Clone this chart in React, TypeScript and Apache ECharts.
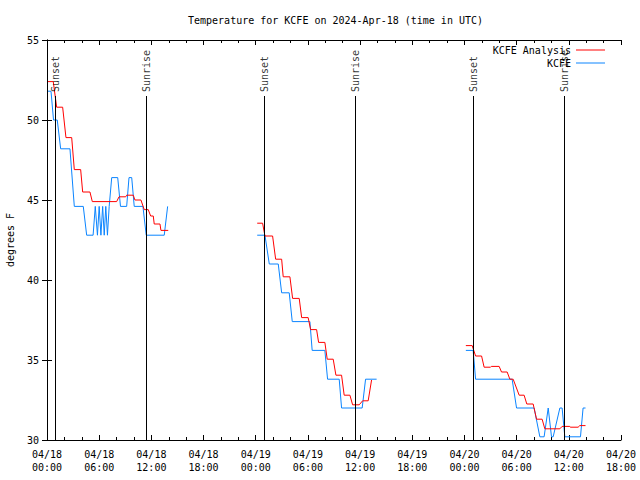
import React, { useEffect, useRef } from "react";
import * as echarts from "echarts";

// Hours since 2024-04-18 00:00 UTC, temperature in degrees F
const analysis1: [number, number][] = [
  [0.11, 52.4], [0.72, 52.4], [1.11, 50.8], [1.8, 50.8], [2.18, 48.9], [2.84, 48.9],
  [3.14, 46.9], [3.87, 46.9], [4.1, 45.5], [4.94, 45.5], [5.21, 44.9], [8.01, 44.9],
  [8.28, 45.2], [9.05, 45.2], [9.16, 45.3], [9.92, 45.3], [10.11, 45.0], [10.8, 45.0],
  [11.18, 44.4], [11.64, 44.4], [11.92, 44.0], [12.22, 44.0], [12.33, 43.5], [12.99, 43.5],
  [13.1, 43.1], [13.94, 43.1],
];
const analysis2: [number, number][] = [
  [24.17, 43.55], [24.79, 43.55], [25.06, 42.75], [25.94, 42.75], [26.29, 41.3], [26.98, 41.3],
  [27.16, 40.2], [27.93, 40.2], [28.24, 38.85], [29.0, 38.85], [29.28, 37.65], [30.03, 37.65],
  [30.31, 36.9], [31.0, 36.9], [31.23, 36.1], [31.95, 36.1], [32.22, 35.05], [32.91, 35.05],
  [33.22, 34.05], [33.87, 34.05], [34.17, 32.8], [34.83, 32.8], [35.14, 32.2], [35.9, 32.2],
  [36.29, 32.45], [36.93, 32.45], [37.32, 33.75],
];
const analysis3: [number, number][] = [
  [48.16, 35.9], [48.89, 35.9], [49.28, 35.25], [49.97, 35.25], [50.26, 34.55], [51.0, 34.55],
  [51.09, 34.6], [51.99, 34.6], [52.26, 34.25], [52.91, 34.25], [53.22, 33.8], [53.6, 33.8],
  [54.29, 32.8], [54.86, 32.8], [55.17, 32.25], [55.9, 32.25], [56.29, 31.3], [56.93, 31.3],
  [57.24, 30.7], [58.97, 30.7], [59.23, 30.85], [60.11, 30.85], [60.17, 30.8], [61.07, 30.8],
  [61.26, 30.9], [61.92, 30.9],
];
const obs1: [number, number][] = [
  [0.11, 51.8], [0.46, 51.8], [0.75, 50.0], [1.18, 50.0], [1.57, 48.2], [2.64, 48.2],
  [3.14, 44.6], [4.17, 44.6], [4.56, 42.8], [5.3, 42.8], [5.55, 44.6], [5.8, 42.8],
  [6.0, 44.6], [6.2, 42.8], [6.4, 44.6], [6.58, 42.8], [6.76, 44.6], [6.95, 42.8],
  [7.15, 44.6], [7.44, 46.4], [8.13, 46.4], [8.45, 44.6], [9.16, 44.6], [9.43, 46.4],
  [9.74, 46.4], [10.03, 44.6], [11.03, 44.6], [11.41, 42.8], [13.48, 42.8], [13.87, 44.6],
];
const obs2: [number, number][] = [
  [24.17, 42.8], [25.06, 42.8], [25.56, 41.0], [26.59, 41.0], [26.98, 39.2], [27.85, 39.2],
  [28.2, 37.4], [30.23, 37.4], [30.49, 35.6], [31.95, 35.6], [32.26, 33.8], [33.6, 33.8],
  [33.87, 32.0], [36.24, 32.0], [36.63, 33.8], [37.9, 33.8],
];
const obs3: [number, number][] = [
  [48.16, 35.6], [49.0, 35.6], [49.28, 33.8], [53.48, 33.8], [53.99, 32.0], [56.01, 32.0],
  [56.67, 30.2], [57.16, 30.2], [57.63, 32.0], [58.01, 30.2], [58.2, 30.2], [58.97, 32.0],
  [59.23, 32.0], [59.54, 30.2], [61.34, 30.2], [61.64, 32.0], [61.92, 32.0],
];
const sunsetHours = [0.93, 24.98, 49.0];
const sunriseHours = [11.46, 35.44, 59.46];

const X_MIN = 0;
const X_MAX = 66;
const Y_MIN = 30;
const Y_MAX = 55;
const EVENT_LINE_TOP = 51.5;
const EVENT_LABEL_BASE = 51.75;

const FONT = "DejaVu Sans Mono";
const RED = "#ff0000";
const BLUE = "#0a84ff";

function joinSegments(segs: [number, number][][]) {
  const out: any[] = [];
  segs.forEach((s, i) => {
    if (i > 0) out.push([s[0][0] - 0.01, "-"]);
    s.forEach((p) => out.push(p));
  });
  return out;
}

function fmtX(v: number) {
  const day = 18 + Math.floor(v / 24);
  const hh = Math.round(v % 24);
  return `04/${day}\n${hh < 10 ? "0" + hh : hh}:00`;
}

export default function App() {
  const ref = useRef<HTMLDivElement>(null);
  useEffect(() => {
    document.body.style.margin = "0";
    const chart = echarts.init(ref.current!, undefined, { renderer: "svg" });
    const axisLine = { show: true, lineStyle: { color: "#000", width: 1 } };
    const xBase = {
      type: "value",
      min: X_MIN,
      max: X_MAX,
      interval: 6,
      axisLine,
      axisTick: { show: true, inside: true, length: 5, lineStyle: { color: "#000" } },
      minorTick: { show: true, splitNumber: 3, length: 3, lineStyle: { color: "#000" } },
      splitLine: { show: false },
    };
    const yBase = {
      type: "value",
      min: Y_MIN,
      max: Y_MAX,
      interval: 5,
      axisLine,
      axisTick: { show: true, inside: true, length: 5, lineStyle: { color: "#000" } },
      splitLine: { show: false },
    };
    const eventLines = [
      ...sunsetHours.map((h) => [{ coord: [h, EVENT_LINE_TOP] }, { coord: [h, Y_MIN] }]),
      ...sunriseHours.map((h) => [{ coord: [h, EVENT_LINE_TOP] }, { coord: [h, Y_MIN] }]),
    ];
    const eventLabels = [
      ...sunsetHours.map((h) => ({ value: [h, EVENT_LABEL_BASE], name: "Sunset" })),
      ...sunriseHours.map((h) => ({ value: [h, EVENT_LABEL_BASE], name: "Sunrise" })),
    ];
    chart.setOption({
      animation: false,
      textStyle: { fontFamily: FONT },
      title: {
        text: "Temperature for KCFE on 2024-Apr-18 (time in UTC)",
        left: 183,
        top: 10,
        textStyle: { fontFamily: FONT, fontSize: 10, fontWeight: "normal", color: "#000" },
      },
      grid: {
        left: 47,
        right: 19,
        top: 40,
        bottom: 40,
        containLabel: false,
        outerBoundsMode: "none",
      },
      legend: [
        {
          data: ["KCFE Analysis"],
          orient: "vertical",
          align: "right",
          right: 30,
          top: 40,
          itemWidth: 29,
          itemHeight: 1,
          icon: "rect",
          selectedMode: false,
          textStyle: { fontFamily: FONT, fontSize: 10, color: "#000" },
        },
        {
          data: ["KCFE"],
          orient: "vertical",
          align: "right",
          right: 30,
          top: 53,
          itemWidth: 29,
          itemHeight: 1,
          icon: "rect",
          selectedMode: false,
          textStyle: { fontFamily: FONT, fontSize: 10, color: "#000" },
        },
      ],
      xAxis: [
        {
          ...xBase,
          position: "bottom",
          axisLabel: {
            show: true,
            formatter: fmtX,
            fontFamily: FONT,
            fontSize: 10,
            color: "#000",
            lineHeight: 13,
            margin: 8,
          },
        },
        { ...xBase, position: "top", axisLabel: { show: false } },
      ],
      yAxis: [
        {
          ...yBase,
          position: "left",
          name: "degrees F",
          nameLocation: "middle",
          nameGap: 32,
          nameRotate: 90,
          nameTextStyle: { fontFamily: FONT, fontSize: 10, color: "#000" },
          axisLabel: { fontFamily: FONT, fontSize: 10, color: "#000", margin: 8 },
        },
        { ...yBase, position: "right", axisLabel: { show: false } },
      ],
      series: [
        {
          name: "KCFE Analysis",
          type: "line",
          xAxisIndex: 0,
          yAxisIndex: 0,
          data: joinSegments([analysis1, analysis2, analysis3]),
          showSymbol: false,
          symbol: "none",
          connectNulls: false,
          lineStyle: { color: RED, width: 1 },
          itemStyle: { color: RED },
          z: 3,
        },
        {
          name: "KCFE",
          type: "line",
          xAxisIndex: 0,
          yAxisIndex: 0,
          data: joinSegments([obs1, obs2, obs3]),
          showSymbol: false,
          symbol: "none",
          connectNulls: false,
          lineStyle: { color: BLUE, width: 1 },
          itemStyle: { color: BLUE },
          z: 2,
        },
        {
          name: "events",
          type: "scatter",
          xAxisIndex: 0,
          yAxisIndex: 0,
          symbolSize: 0,
          itemStyle: { color: "transparent" },
          data: eventLabels,
          silent: true,
          z: 4,
          label: {
            show: true,
            position: "inside",
            formatter: "{b}",
            rotate: 90,
            align: "left",
            verticalAlign: "middle",
            fontFamily: FONT,
            fontSize: 10,
            color: "#000",
          },
          markLine: {
            silent: true,
            symbol: "none",
            label: { show: false },
            lineStyle: { color: "#000", width: 1, type: "solid" },
            data: eventLines,
          },
        },
      ],
    });
    return () => chart.dispose();
  }, []);
  return <div ref={ref} style={{ width: 640, height: 480 }} />;
}
